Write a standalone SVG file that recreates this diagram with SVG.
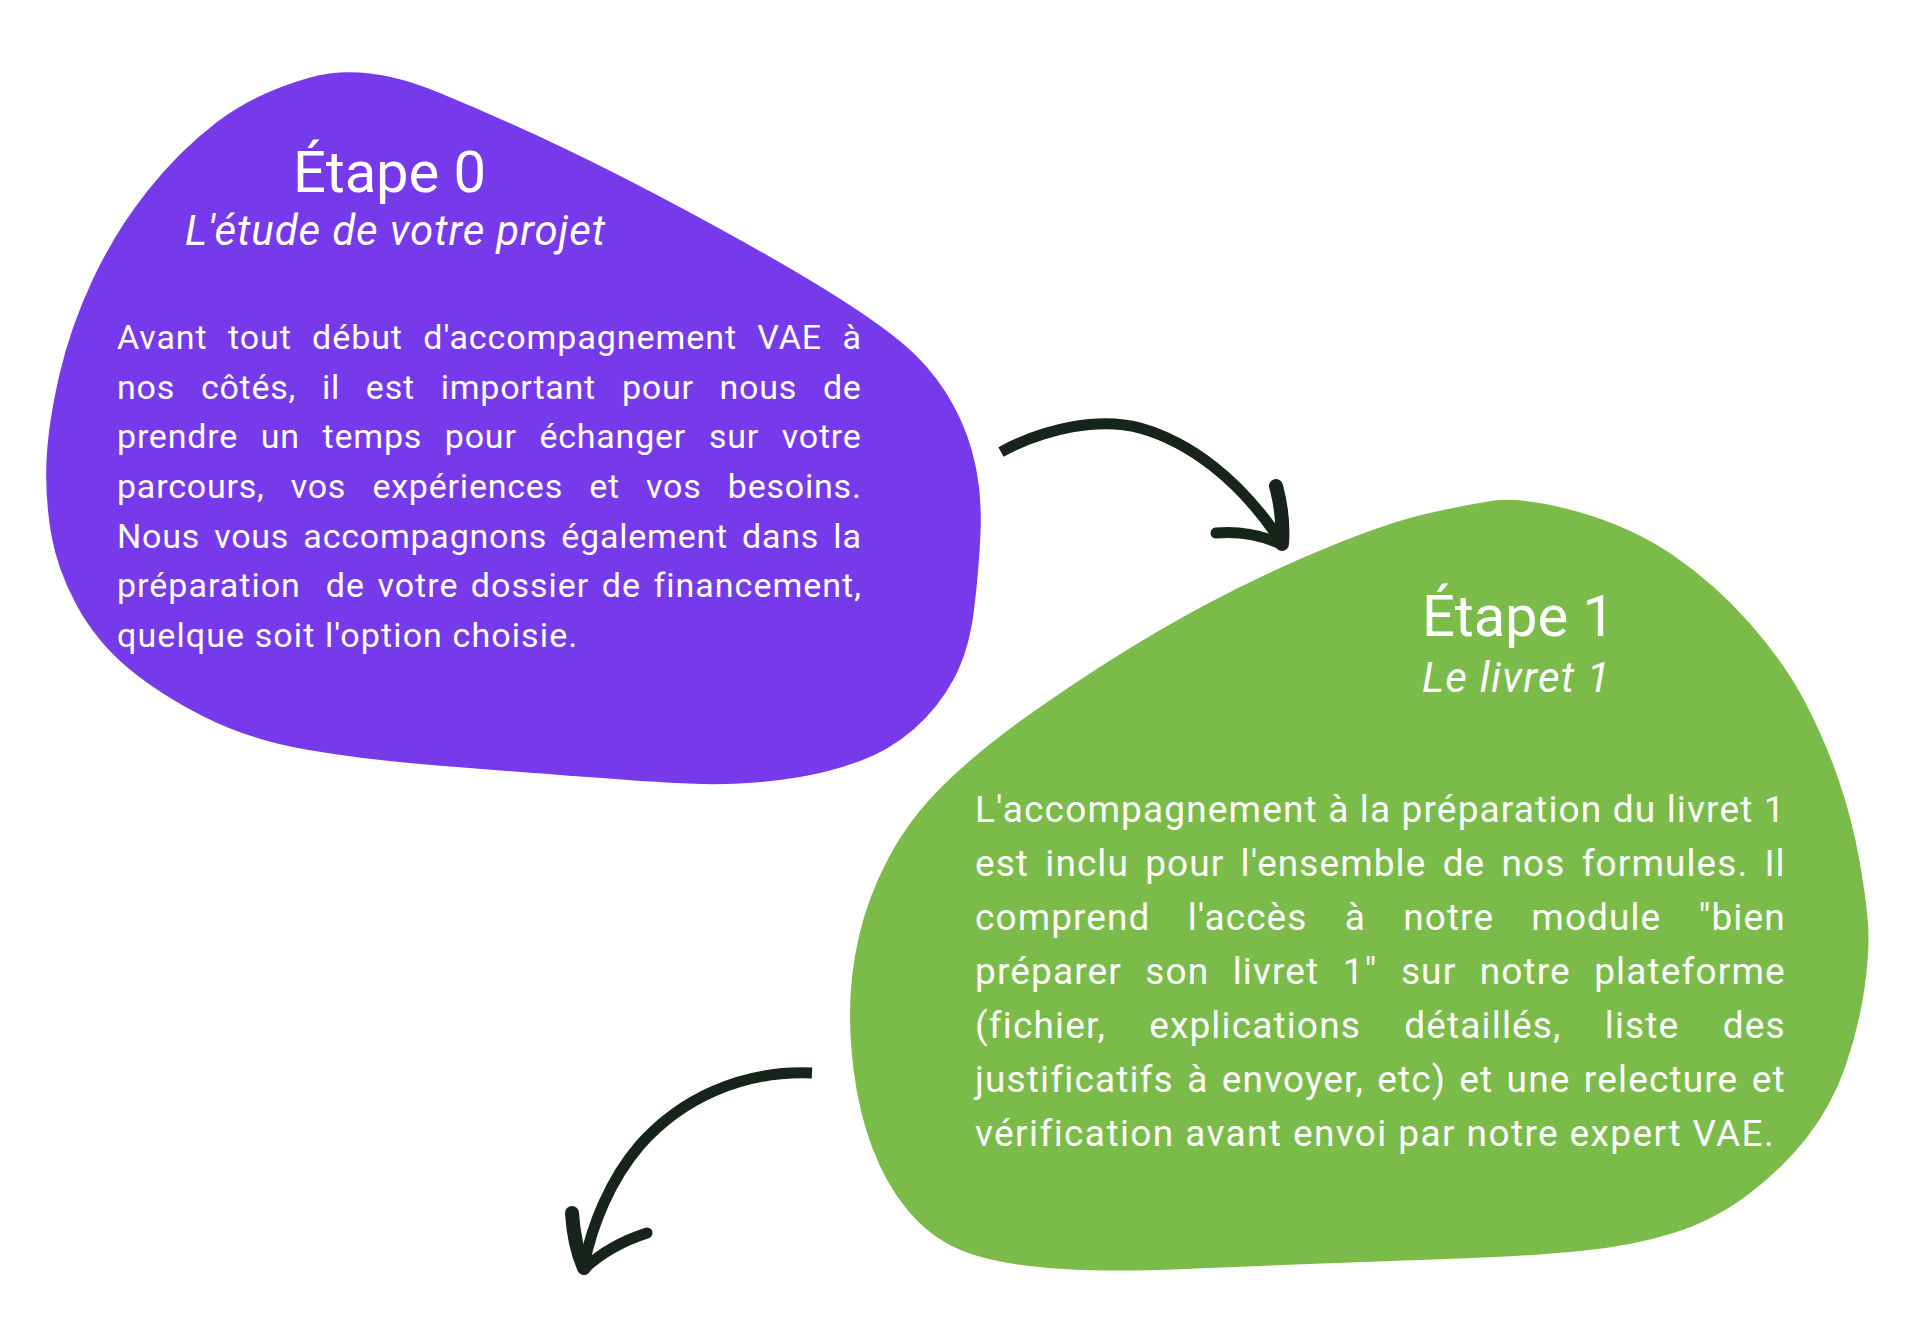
<svg xmlns="http://www.w3.org/2000/svg" width="1920" height="1318" viewBox="0 0 1920 1318">
<style>
.title{font-family:Roboto,"Liberation Sans",sans-serif;font-weight:400;font-size:58px;fill:#ffffff}
.sub{font-family:Roboto,"Liberation Sans",sans-serif;font-weight:400;font-style:italic;font-size:42px;fill:#ffffff}
.bp{font-family:Roboto,"Liberation Sans",sans-serif;font-weight:400;font-size:34px;fill:#ffffff;letter-spacing:1.1px}
.bg{font-family:Roboto,"Liberation Sans",sans-serif;font-weight:400;font-size:37px;fill:#ffffff;letter-spacing:1.4px}
.arrow{fill:none;stroke:#16241b;stroke-linecap:round}
.body{stroke-width:11;stroke-linecap:butt}
</style>
<rect width="1920" height="1318" fill="#ffffff"/>
<g id="node-etape0">
<path fill="#773aea" d="M 437.5,92 Q 510,122 574,153 Q 638,184 717.5,227.5 Q 797,271 845,302 Q 893,333 915.5,355 Q 938,377 953.5,405.5 Q 969,434 975.5,465.5 Q 982,497 980.5,533 Q 979,569 974,610 Q 969,651 953.5,679.5 Q 938,708 914,729 Q 890,750 860,761 Q 830,772 800,777 Q 770,782 740,783.5 Q 710,785 675,783 Q 640,781 580,776.5 Q 520,772 443.5,766 Q 367,760 308.5,750 Q 250,740 204.5,717 Q 159,694 127.5,667.5 Q 96,641 76.5,605 Q 57,569 51,533 Q 45,497 46.5,461 Q 48,425 59,376.5 Q 70,328 92.5,280 Q 115,232 147,191.5 Q 179,151 217,122 Q 255,93 310,77.5 Q 365,62 437.5,92 Z"/>
<text class="title" x="293" y="192" textLength="193" lengthAdjust="spacing">Étape 0</text>
<text class="sub" x="185" y="245" textLength="420" lengthAdjust="spacing">L'étude de votre projet</text>
<text class="bp" x="117" y="349" textLength="745" lengthAdjust="spacing" word-spacing="11">Avant tout début d'accompagnement VAE à</text>
<text class="bp" x="117" y="399" textLength="745" lengthAdjust="spacing" word-spacing="16.7">nos côtés, il est important pour nous de</text>
<text class="bp" x="117" y="448" textLength="745" lengthAdjust="spacing" word-spacing="13.5">prendre un temps pour échanger sur votre</text>
<text class="bp" x="117" y="498" textLength="745" lengthAdjust="spacing" word-spacing="17">parcours, vos expériences et vos besoins.</text>
<text class="bp" x="117" y="548" textLength="745" lengthAdjust="spacing" word-spacing="5">Nous vous accompagnons également dans la</text>
<text class="bp" x="117" y="597" textLength="745" lengthAdjust="spacing" word-spacing="3">préparation&#160; de votre dossier de financement,</text>
<text class="bp" x="117" y="647">quelque soit l'option choisie.</text>
</g>
<g id="node-etape1">
<path fill="#7bbb4a" d="M 1577,511.5 Q 1632,527 1673.5,555.5 Q 1715,584 1749.5,623 Q 1784,662 1804.5,701 Q 1825,740 1838.5,779.5 Q 1852,819 1859,858 Q 1866,897 1868,923 Q 1870,949 1864.5,988 Q 1859,1027 1845.5,1066 Q 1832,1105 1808,1136 Q 1784,1167 1749.5,1193.5 Q 1715,1220 1673.5,1233 Q 1632,1246 1580.5,1251 Q 1529,1256 1460,1258.5 Q 1391,1261 1322,1263.5 Q 1253,1266 1184,1269 Q 1115,1272 1063.5,1269 Q 1012,1266 977.5,1256 Q 943,1246 919,1222.5 Q 895,1199 879.5,1165 Q 864,1131 857,1092 Q 850,1053 850,1014 Q 850,975 859,936 Q 868,897 888.5,858 Q 909,819 943.5,785 Q 978,751 1029.5,714.5 Q 1081,678 1132.5,646.5 Q 1184,615 1236,589 Q 1288,563 1339.5,542.5 Q 1391,522 1425.5,514 Q 1460,506 1491,501 Q 1522,496 1577,511.5 Z"/>
<text class="title" x="1422" y="636" textLength="193" lengthAdjust="spacing">Étape 1</text>
<text class="sub" x="1422" y="692" textLength="188" lengthAdjust="spacing">Le livret 1</text>
<text class="bg" x="975" y="822" textLength="811" lengthAdjust="spacing">L'accompagnement à la préparation du livret 1</text>
<text class="bg" x="975" y="876" textLength="811" lengthAdjust="spacing" word-spacing="6">est inclu pour l'ensemble de nos formules. Il</text>
<text class="bg" x="975" y="930" textLength="811" lengthAdjust="spacing" word-spacing="27">comprend l'accès à notre module "bien</text>
<text class="bg" x="975" y="984" textLength="811" lengthAdjust="spacing" word-spacing="13">préparer son livret 1" sur notre plateforme</text>
<text class="bg" x="975" y="1038" textLength="811" lengthAdjust="spacing" word-spacing="33">(fichier, explications détaillés, liste des</text>
<text class="bg" x="975" y="1092" textLength="811" lengthAdjust="spacing" word-spacing="3">justificatifs à envoyer, etc) et une relecture et</text>
<text class="bg" x="975" y="1146">vérification avant envoi par notre expert VAE.</text>
</g>
<g id="connectors">
<g id="arrow-0-1">
<path class="arrow body" d="M 1001,452 C 1045,428 1100,417 1140,428 C 1190,442 1240,480 1280,540"/>
<path class="arrow" stroke-width="11" d="M 1216,533 Q 1250,530 1281,544"/>
<path class="arrow" stroke-width="14" d="M 1276,486 Q 1284,515 1282,544"/>
</g>
<g id="arrow-1-2">
<path class="arrow body" d="M 812,1073 C 740,1070 680,1100 640,1145 C 610,1180 592,1225 584,1265"/>
<path class="arrow" stroke-width="14" d="M 572,1213 Q 574,1245 584,1268"/>
<path class="arrow" stroke-width="11" d="M 647,1233 Q 610,1245 585,1268"/>
</g>
</g>
</svg>
